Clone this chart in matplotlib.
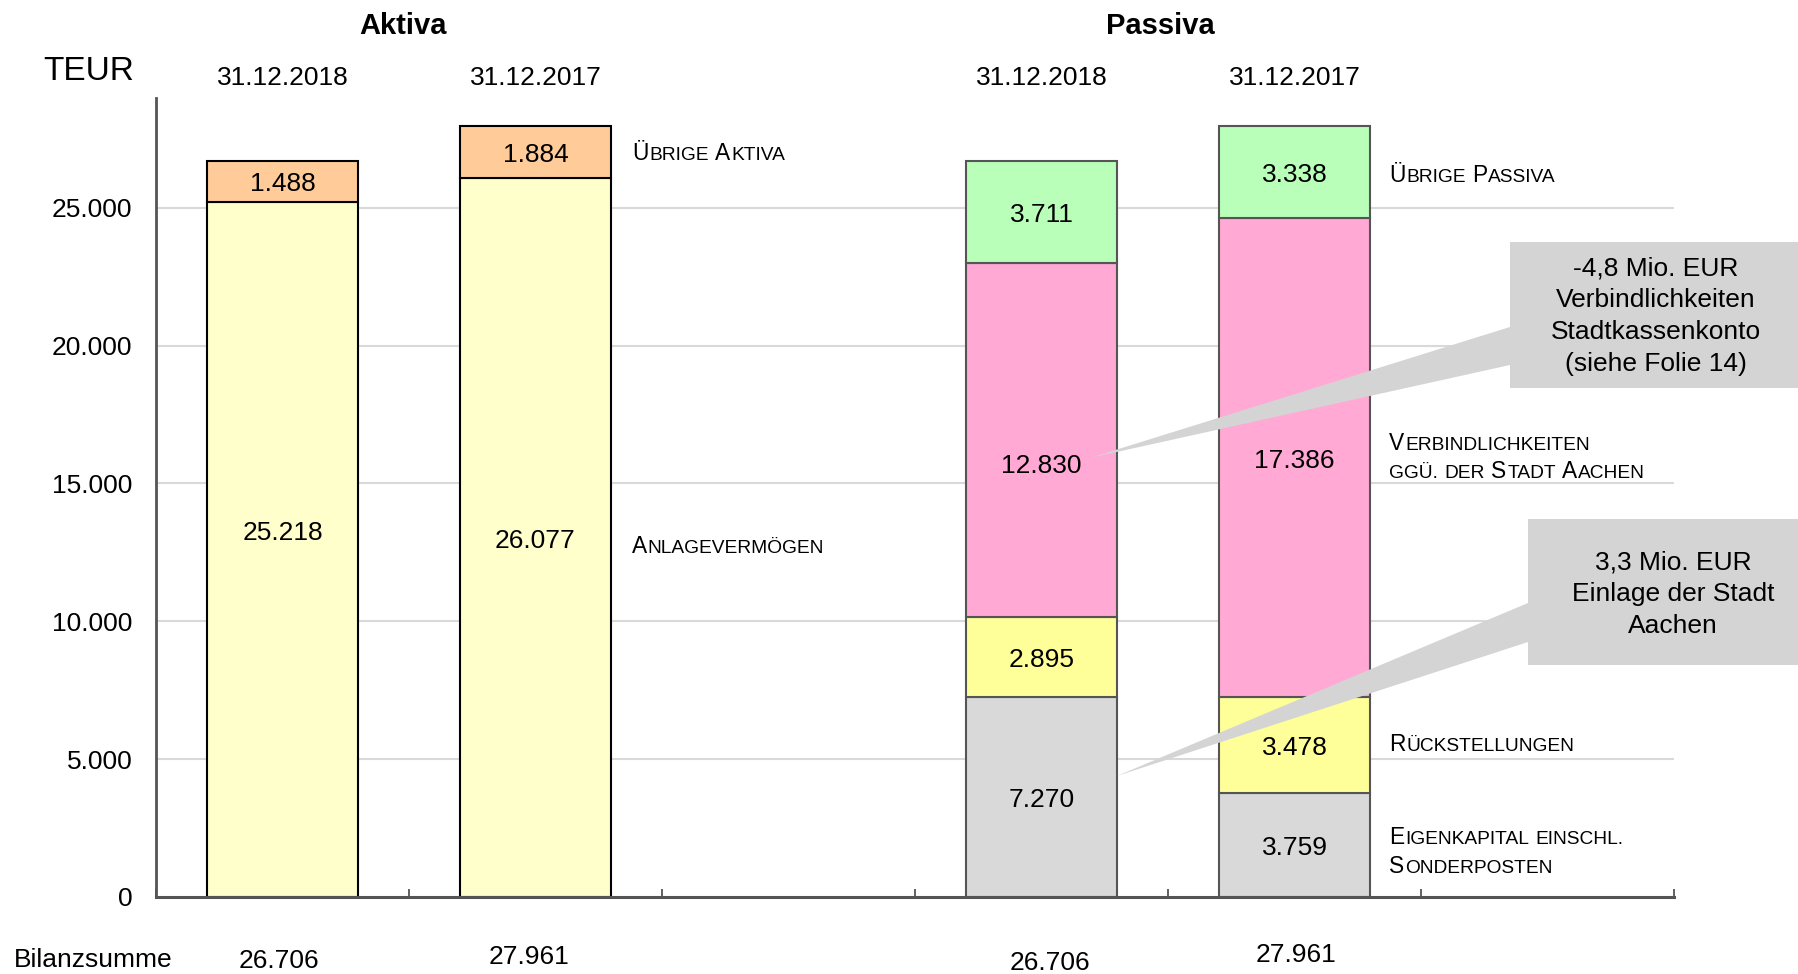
import matplotlib
matplotlib.use('Agg')
import matplotlib.pyplot as plt
from matplotlib.patches import Rectangle, Polygon
from matplotlib.font_manager import FontProperties

FONT = 'Liberation Sans'
plt.rcParams['font.family'] = [FONT, 'DejaVu Sans']

# ---------------- data ----------------
dates = ['31.12.2018', '31.12.2017']
aktiva_labels = ['Anlagevermögen', 'Übrige Aktiva']
aktiva_2018 = [25218, 1488]
aktiva_2017 = [26077, 1884]
passiva_labels = ['Eigenkapital einschl.\nSonderposten', 'Rückstellungen',
                  'Verbindlichkeiten\nggü. der Stadt Aachen', 'Übrige Passiva']
passiva_2018 = [7270, 2895, 12830, 3711]
passiva_2017 = [3759, 3478, 17386, 3338]
bilanzsumme = [26706, 27961, 26706, 27961]
aktiva_colors = ['#FFFFCC', '#FFCC99']
passiva_colors = ['#D9D9D9', '#FFFF99', '#FFA9D4', '#B9FFB9']
y_ticks = [0, 5000, 10000, 15000, 20000, 25000]
callout_texts = ['-4,8 Mio. EUR\nVerbindlichkeiten\nStadtkassenkonto\n(siehe Folie 14)',
                 '3,3 Mio. EUR\nEinlage der Stadt\nAachen']

def fmt(v):
    return f'{v:,}'.replace(',', '.')

W, H = 1798, 974
fig = plt.figure(figsize=(W / 100, H / 100), dpi=100)
ax_l, ax_r, ax_b, ax_t = 156, 1674, 897, 97.5
ax = fig.add_axes([ax_l / W, 1 - ax_b / H, (ax_r - ax_l) / W, (ax_b - ax_t) / H])
ax.set_xlim(-0.5, 5.5)
ax.set_ylim(0, 29000)

# grid
for t in y_ticks[1:]:
    ax.axhline(t, color='#D9D9D9', lw=1.5, zorder=0)

bw = 0.6
label_fs = 19

def stack(xpos, values, colors, edge, overrides=None):
    bottom = 0
    for i, (v, c) in enumerate(zip(values, colors)):
        ax.bar(xpos, v, bw, bottom=bottom, color=c, edgecolor=edge, lw=1.5, zorder=2)
        yl = bottom + v / 2
        if overrides and i in overrides:
            yl = bottom + v * overrides[i]
        ax.annotate(fmt(v), xy=(xpos, yl), xytext=(0, -2.2), textcoords='offset points',
                    ha='center', va='center', fontsize=label_fs, zorder=3)
        bottom += v

stack(0, aktiva_2018, aktiva_colors, 'black', {0: 0.528})
stack(1, aktiva_2017, aktiva_colors, 'black')
stack(3, passiva_2018, passiva_colors, '#555555', {2: 0.436})
stack(4, passiva_2017, passiva_colors, '#555555')

# axes styling
for s in ['top', 'right']:
    ax.spines[s].set_visible(False)
ax.spines['left'].set_color('#555555')
ax.spines['left'].set_linewidth(2)
ax.spines['bottom'].set_color('#555555')
ax.spines['bottom'].set_linewidth(2.2)
ax.spines['bottom'].set_zorder(4)
ax.set_yticks(y_ticks)
ax.set_yticklabels([fmt(t) for t in y_ticks], fontsize=19)
ax.tick_params(axis='y', length=0, pad=17)
ax.set_xticks([i - 0.5 for i in range(7)])
ax.set_xticklabels([])
ax.tick_params(axis='x', direction='in', length=6, width=1.3, color='#555555')

# headers
ax.text(0.475, 31590, 'Aktiva', ha='center', va='center', fontsize=21, fontweight='bold', clip_on=False)
ax.text(3.47, 31590, 'Passiva', ha='center', va='center', fontsize=21, fontweight='bold', clip_on=False)
for xs in ([0, 1], [3, 4]):
    for xp, d in zip(xs, dates):
        ax.text(xp, 29700, d, ha='center', va='center', fontsize=19, clip_on=False)
fig.text(89 / W, 1 - 72 / H, 'TEUR', ha='center', va='center', fontsize=24)

# Bilanzsumme
fig.text(14 / W, 1 - 960 / H, 'Bilanzsumme', ha='left', va='center', fontsize=19)
bs_x = [-0.015, 0.973, 3.035, 4.005]
bs_y = [-2310, -2180, -2400, -2110]
for xp, yp, v in zip(bs_x, bs_y, bilanzsumme):
    ax.text(xp, yp, fmt(v), ha='center', va='center', fontsize=19, clip_on=False)

# small caps labels
renderer = fig.canvas.get_renderer()
def descent_pts(size):
    fp = FontProperties(family=FONT, size=size)
    _, _, d = renderer.get_text_width_height_descent('lp', fp, ismath=False)
    return d * 72 / fig.dpi

def small_caps(x, y, text, big=16.4, small=13.8):
    prev, prev_size = None, None
    for wi, word in enumerate(text.split(' ')):
        runs = []
        for ch in word:
            size = big if ch.isupper() else small
            if runs and runs[-1][1] == size:
                runs[-1][0] += ch.upper()
            else:
                runs.append([ch.upper(), size])
        for ri, (s, size) in enumerate(runs):
            if prev is None:
                prev = ax.text(x, y, s, fontsize=size, ha='left', va='baseline', clip_on=False)
            else:
                gap = 0.04 * small + (0.3 * small if ri == 0 else 0.0)
                prev = ax.annotate(s, xy=(1, 0), xycoords=prev,
                                   xytext=(gap, descent_pts(prev_size)),
                                   textcoords='offset points', fontsize=size,
                                   ha='left', va='baseline', annotation_clip=False)
            prev_size = size

ak_x, pa_x = 1.381, 4.374
aktiva_label_y = [[12482], [26742]]
passiva_label_y = [[1912, 882], [5308], [16219, 15214], [25918]]
for lab, ys in zip(aktiva_labels, aktiva_label_y):
    for line, yy in zip(lab.split('\n'), ys):
        small_caps(ak_x, yy, line)
for lab, ys in zip(passiva_labels, passiva_label_y):
    for line, yy in zip(lab.split('\n'), ys):
        small_caps(pa_x, yy, line)

# callouts
inv = fig.transFigure.inverted()
def figpt(px, py):
    return (px / W, 1 - py / H)

call_col = '#D4D4D4'
boxes = [(1510, 242, 1798, 388), (1528, 519, 1798, 665)]
tips = [(3.193, 15930), (3.298, 4390)]
bases = [((1510, 327), (1510, 365)), ((1528, 603), (1528, 642))]
text_pos = [(1656, 316), (1673, 594)]
for (x0, y0, x1, y1), tip, base, tp, txt in zip(boxes, tips, bases, text_pos, callout_texts):
    tip_f = inv.transform(ax.transData.transform(tip))
    poly = Polygon([tip_f, figpt(*base[0]), figpt(*base[1])], closed=True,
                   transform=fig.transFigure, facecolor=call_col, edgecolor='none', zorder=5)
    fig.patches.append(poly)
    rect = Rectangle(figpt(x0, y1), (x1 - x0) / W, (y1 - y0) / H, transform=fig.transFigure,
                     facecolor=call_col, edgecolor='none', zorder=5)
    fig.patches.append(rect)
    fig.text(tp[0] / W, 1 - tp[1] / H, txt, ha='center', va='center', fontsize=19,
             linespacing=1.42, zorder=6)

fig.savefig('out.png', dpi=100)
